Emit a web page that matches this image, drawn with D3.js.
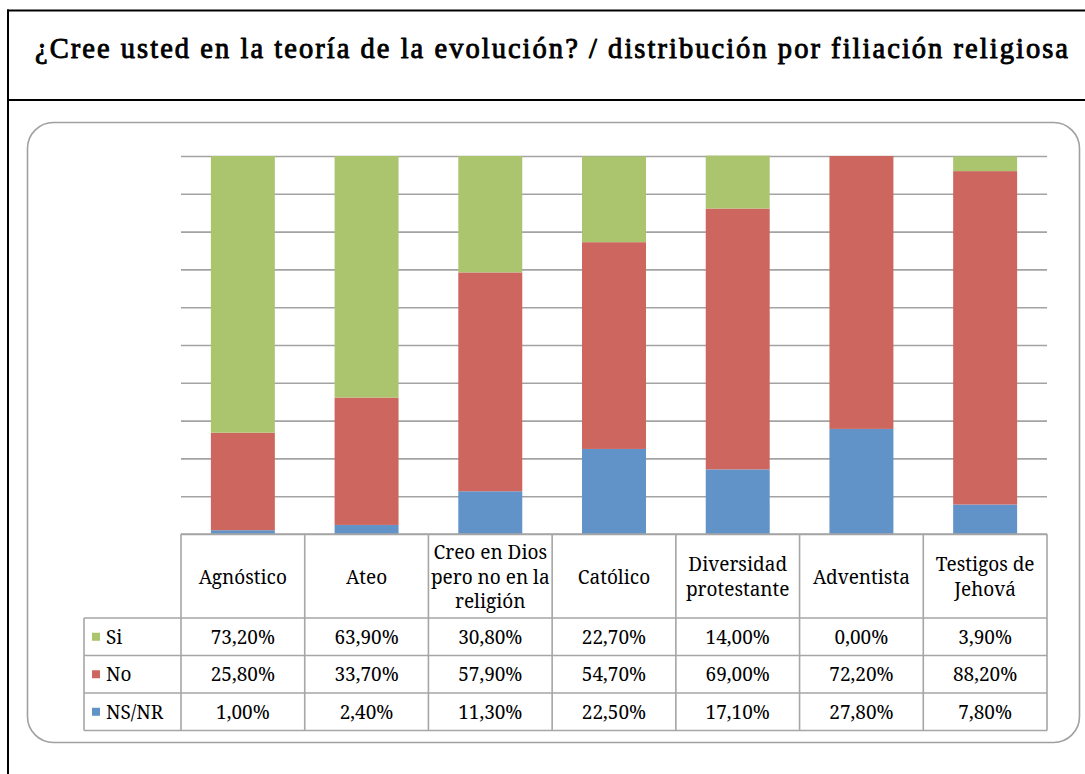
<!DOCTYPE html>
<html>
<head>
<meta charset="utf-8">
<script src="https://cdn.jsdelivr.net/npm/d3@7"></script>
<style>
  html, body { margin: 0; padding: 0; background: #fff; }
  svg { display: block; }
</style>
</head>
<body>
<svg id="chart" width="1085" height="774"></svg>
<script>
// Survey answers by religious affiliation (percent of respondents)
const categories = [
  "Agnóstico",
  "Ateo",
  "Creo en Dios pero no en la religión",
  "Católico",
  "Diversidad protestante",
  "Adventista",
  "Testigos de Jehová"
];
// How each category label wraps inside its header cell
const categoryLines = [
  ["Agnóstico"],
  ["Ateo"],
  ["Creo en Dios", "pero no en la", "religión"],
  ["Católico"],
  ["Diversidad", "protestante"],
  ["Adventista"],
  ["Testigos de", "Jehová"]
];
const seriesNames = ["Si", "No", "NS/NR"];
const si    = [73.2, 63.9, 30.8, 22.7, 14.0, 0.0, 3.9];
const no    = [25.8, 33.7, 57.9, 54.7, 69.0, 72.2, 88.2];
const nsnr  = [1.0, 2.4, 11.3, 22.5, 17.1, 27.8, 7.8];
const yTicks = [0, 10, 20, 30, 40, 50, 60, 70, 80, 90, 100];

const colors = { "Si": "#abc46e", "No": "#cd665f", "NS/NR": "#6193c8" };
const seriesValues = { "Si": si, "No": no, "NS/NR": nsnr };

const rows = categories.map((c, i) => ({ cat: c, "Si": si[i], "No": no[i], "NS/NR": nsnr[i] }));

const svg = d3.select("#chart");
const titleFont = '"Liberation Serif"';
const bodyFont = '"Noto Serif"';

// Page frame and title
svg.append("line").attr("x1", 7).attr("x2", 1085).attr("y1", 10.5).attr("y2", 10.5)
  .attr("stroke", "#000").attr("stroke-width", 2);
svg.append("line").attr("x1", 7).attr("x2", 1085).attr("y1", 100).attr("y2", 100)
  .attr("stroke", "#000").attr("stroke-width", 2);
svg.append("line").attr("x1", 8).attr("x2", 8).attr("y1", 9.5).attr("y2", 774)
  .attr("stroke", "#000").attr("stroke-width", 2);
// heavy serif title (regular face thickened with a stroke)
svg.append("text")
  .attr("x", 35).attr("y", 58)
  .attr("textLength", 1033).attr("lengthAdjust", "spacing")
  .style("font-family", titleFont).style("font-size", "28.5px")
  .attr("fill", "#000").attr("stroke", "#000").attr("stroke-width", 0.9)
  .attr("stroke-linejoin", "round")
  .text("¿Cree usted en la teoría de la evolución? / distribución por filiación religiosa");

// Rounded chart area
svg.append("rect")
  .attr("x", 27.5).attr("y", 122.5).attr("width", 1052).attr("height", 620)
  .attr("rx", 26).attr("ry", 26)
  .attr("fill", "#fff").attr("stroke", "#a0a0a0").attr("stroke-width", 1.6);

// Scales
const plotLeft = 181, plotRight = 1047, plotTop = 156, plotBottom = 534;
const pad = 0.483;
const x = d3.scaleBand().domain(categories).range([plotLeft, plotRight])
  .paddingInner(pad).paddingOuter(pad / 2);
const y = d3.scaleLinear().domain([0, 100]).range([plotBottom, plotTop]);
const gap = (x.step() - x.bandwidth()) / 2;

// Horizontal gridlines
const grid = svg.append("g").attr("transform", `translate(${plotLeft},0)`)
  .call(d3.axisLeft(y).tickValues(yTicks).tickSize(-(plotRight - plotLeft)).tickFormat(""));
grid.select(".domain").remove();
grid.selectAll(".tick line").attr("stroke", "#a3a3a3").attr("stroke-width", 1.6);

// Stacked columns, bottom to top: NS/NR, No, Si
const stack = d3.stack().keys(["NS/NR", "No", "Si"]);
const layers = stack(rows);
svg.append("g").selectAll("g")
  .data(layers).join("g")
  .attr("fill", d => colors[d.key])
  .selectAll("rect")
  .data(d => d).join("rect")
  .attr("x", d => x(d.data.cat))
  .attr("width", x.bandwidth())
  .attr("y", d => y(d[1]))
  .attr("height", d => y(d[0]) - y(d[1]));

// Data table underneath
const headerBottom = 618;
const rowH = 37.5;
const lineColor = "#a6a6a6";
const table = svg.append("g");
const fmt = v => d3.format(".2f")(v).replace(".", ",") + "%";
const legendLeft = 84;
const cellText = sel => sel.style("font-family", bodyFont).style("font-size", "19px").attr("fill", "#000");

// header cells
categories.forEach((c, i) => {
  const x0 = x(c) - gap, x1 = x0 + x.step();
  const lines = categoryLines[i];
  const cy = (plotBottom + headerBottom) / 2 + 7.5;
  lines.forEach((ln, j) => {
    table.append("text")
      .attr("x", (x0 + x1) / 2)
      .attr("y", cy + (j - (lines.length - 1) / 2) * 24.5)
      .attr("text-anchor", "middle")
      .call(cellText)
      .text(ln);
  });
});

// value rows
seriesNames.forEach((s, r) => {
  const y0 = headerBottom + r * rowH;
  const cy = y0 + rowH / 2 + 7;
  table.append("rect")
    .attr("x", 92).attr("y", y0 + rowH / 2 - 4).attr("width", 8).attr("height", 8)
    .attr("fill", colors[s]);
  table.append("text")
    .attr("x", 106).attr("y", cy)
    .call(cellText)
    .text(s);
  categories.forEach((c, i) => {
    table.append("text")
      .attr("x", x(c) + x.bandwidth() / 2)
      .attr("y", cy)
      .attr("text-anchor", "middle")
      .call(cellText)
      .text(fmt(seriesValues[s][i]));
  });
});

// table grid lines
const tableBottom = headerBottom + seriesNames.length * rowH;
const hLines = [plotBottom];
for (let r = 0; r <= seriesNames.length; r++) hLines.push(headerBottom + r * rowH);
hLines.forEach((yy, k) => {
  table.append("line")
    .attr("x1", k === 0 ? plotLeft : legendLeft).attr("x2", plotRight)
    .attr("y1", yy).attr("y2", yy)
    .attr("stroke", lineColor).attr("stroke-width", 1.6);
});
const vLines = categories.map(c => x(c) - gap).concat([plotRight]);
vLines.forEach(xx => {
  table.append("line")
    .attr("x1", xx).attr("x2", xx).attr("y1", plotBottom).attr("y2", tableBottom)
    .attr("stroke", lineColor).attr("stroke-width", 1.6);
});
table.append("line")
  .attr("x1", legendLeft).attr("x2", legendLeft).attr("y1", headerBottom).attr("y2", tableBottom)
  .attr("stroke", lineColor).attr("stroke-width", 1.6);
</script>
</body>
</html>
